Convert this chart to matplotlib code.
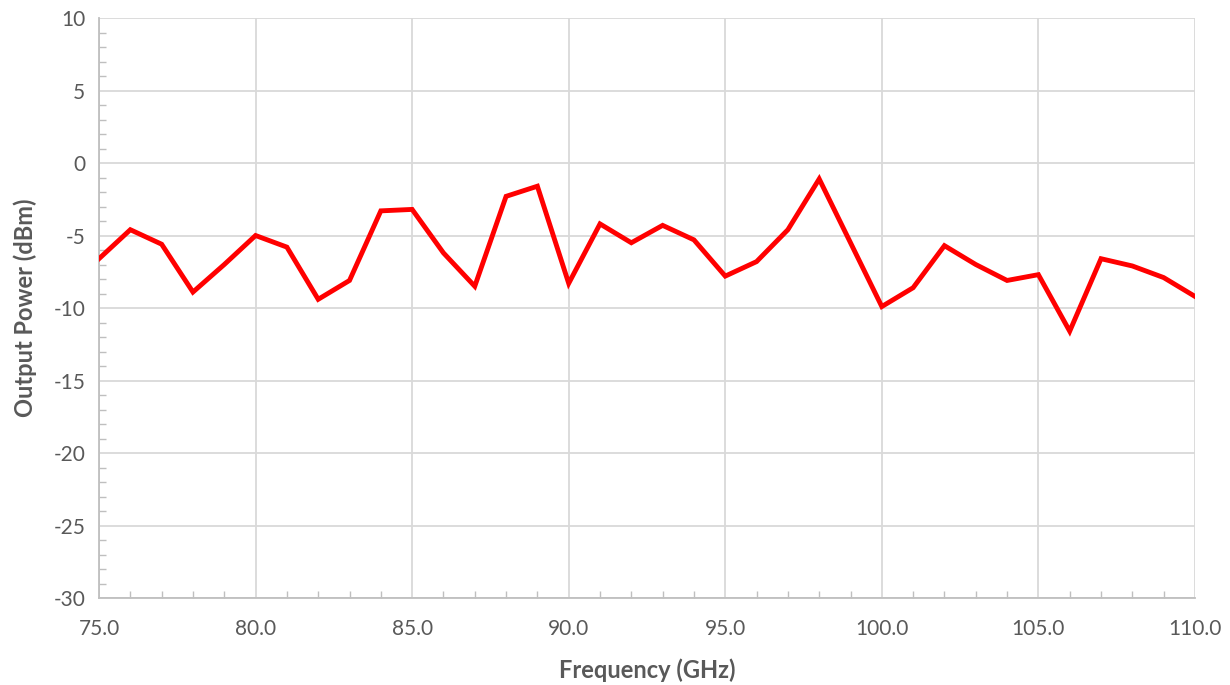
import matplotlib
matplotlib.use("Agg")
from matplotlib import pyplot as plt
from matplotlib.ticker import MultipleLocator, FormatStrFormatter

frequency_ghz = list(range(75, 111))
output_power_dbm = [
    -6.6, -4.6, -5.6, -8.9, -7.0, -5.0, -5.8, -9.4, -8.1, -3.3,
    -3.2, -6.2, -8.5, -2.3, -1.6, -8.3, -4.2, -5.5, -4.3, -5.3,
    -7.8, -6.8, -4.6, -1.1, -5.5, -9.9, -8.6, -5.7, -7.0, -8.1,
    -7.7, -11.6, -6.6, -7.1, -7.9, -9.2,
]

TEXT = "#595959"
GRID = "#d9d9d9"
AXIS = "#bfbfbf"

plt.rcParams["font.family"] = ["Lato", "DejaVu Sans"]
plt.rcParams["axes.unicode_minus"] = False

fig = plt.figure(figsize=(12.3, 6.85), dpi=100)
ax = fig.add_axes([0.0805, 0.127, 0.891, 0.8467])

ax.plot(frequency_ghz, output_power_dbm, color="#ff0000", lw=3.5,
        solid_joinstyle="miter", zorder=3)

ax.set_xlim(75, 110)
ax.set_ylim(-30, 10)
ax.xaxis.set_major_locator(MultipleLocator(5))
ax.xaxis.set_minor_locator(MultipleLocator(1))
ax.yaxis.set_major_locator(MultipleLocator(5))
ax.yaxis.set_minor_locator(MultipleLocator(1))
ax.xaxis.set_major_formatter(FormatStrFormatter("%.1f"))

ax.grid(True, which="major", color=GRID, lw=1.3, zorder=0)
for side in ("top", "right"):
    ax.spines[side].set_visible(False)
for side in ("left", "bottom"):
    ax.spines[side].set_color(AXIS)
    ax.spines[side].set_linewidth(1.3)

ax.tick_params(which="major", length=0, labelsize=15, labelcolor=TEXT, pad=10)
ax.tick_params(which="minor", direction="in", length=5, color=AXIS, width=1)
ax.tick_params(axis="x", which="major", pad=15)

ax.set_xlabel("Frequency (GHz)", fontsize=17, fontweight="bold", color=TEXT, labelpad=14)
ax.set_ylabel("Output Power (dBm)", fontsize=17, fontweight="bold", color=TEXT, labelpad=12)

fig.savefig("out.png", dpi=100)
